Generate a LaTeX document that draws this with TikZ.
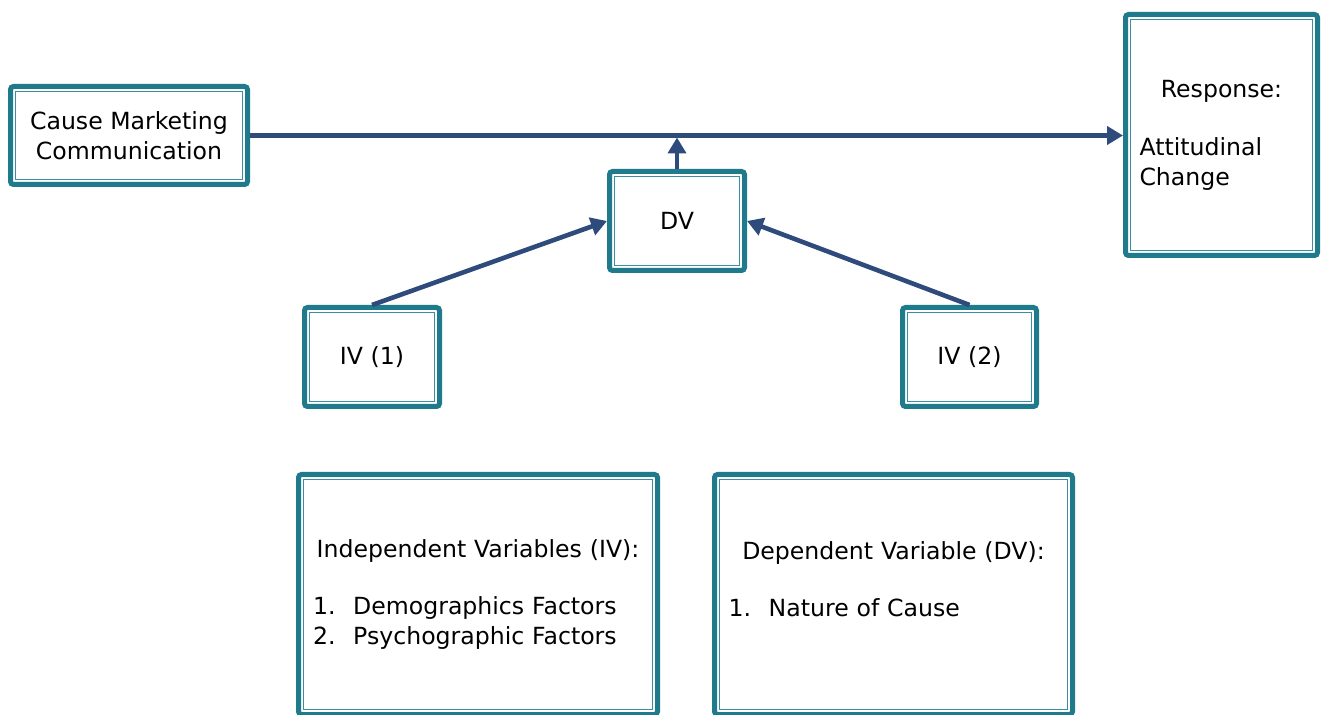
\documentclass[tikz,border=0pt]{standalone}
\usepackage{fontspec}
\setmainfont{DejaVu Sans}
\usepackage{tikz}
\usetikzlibrary{arrows.meta,positioning}
\definecolor{boxteal}{HTML}{1F7A8C}
\definecolor{innerteal}{HTML}{3A8E9F}
\definecolor{arrowblue}{HTML}{2E4B7B}

\begin{document}
\begin{tikzpicture}[x=0.5pt,y=-0.5pt]
  \tikzset{var box/.style = {draw=boxteal, line width=2.5pt, rounded corners=1.5pt, fill=white,
      inner sep=0pt, font=\fontsize{11.8}{15}\selectfont,
      path picture={\draw[innerteal, line width=0.7pt, sharp corners]
        ([shift={(2.6pt,2.6pt)}]path picture bounding box.south west) rectangle
        ([shift={(-2.6pt,-2.6pt)}]path picture bounding box.north east);}},
    link/.style = {draw=arrowblue, line width=2.3pt, -{Triangle[length=8pt,width=9pt]}}}
  \useasboundingbox (0,0) rectangle (1322,715);
  \clip (0,0) rectangle (1322,715);

  \node[var box, minimum width=118.5pt, minimum height=49pt, align=center] (cmc) at (129,135.5)
    {Cause Marketing\\Communication};
  \node[var box, minimum width=96pt, minimum height=120.5pt, text width=82pt, align=left] (resp) at (1221.5,135)
    {\makebox[\linewidth]{Response:}\\[14pt]Attitudinal\\Change};
  \node[var box, minimum width=67.5pt, minimum height=49.5pt] (dv) at (677,221) {DV};
  \node[var box, minimum width=67.5pt, minimum height=49.5pt] (iv1) at (372,357) {IV (1)};
  \node[var box, minimum width=67pt, minimum height=49.5pt] (iv2) at (969.5,357) {IV (2)};

  \node[var box, minimum width=179.5pt, minimum height=120pt, text width=165pt, align=left] (ivlist) at (478,594.5)
    {\makebox[\linewidth]{Independent Variables (IV):}\\[13.5pt]
     1.\hspace{0.75em}Demographics Factors\\
     2.\hspace{0.75em}Psychographic Factors};
  \node[var box, minimum width=179pt, minimum height=120pt, text width=165pt, align=left] (dvlist) at (893.5,594.5)
    {\makebox[\linewidth]{Dependent Variable (DV):}\\[13.5pt]
     1.\hspace{0.75em}Nature of Cause\\
     \mbox{}};

  \draw[link] (cmc.east) -- (cmc.east -| resp.west);
  \draw[link, shorten >=1pt] (dv.north) -- (dv.north |- cmc.east);
  \draw[link] (iv1.north) -- (dv.west);
  \draw[link] (iv2.north) -- (dv.east);
\end{tikzpicture}
\end{document}
